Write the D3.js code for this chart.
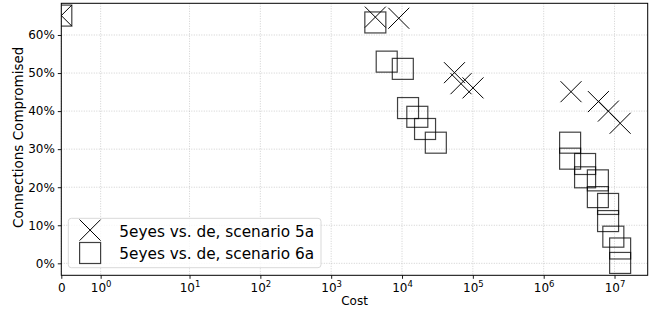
<!DOCTYPE html>
<meta charset="utf-8">
<style>
	body { margin: 0; background: #fff; }
	svg text { font-family: "DejaVu Sans", sans-serif; fill: #000; }
	.grid line { stroke: #b0b0b0; stroke-opacity: 0.6; stroke-dasharray: 1,1.5; }
</style>
<script src="https://cdn.jsdelivr.net/npm/d3@7"></script>
<body>
<div id="chart"></div>
<script>
	// cost / share of connections compromised
	let cost5a = [0, 4200, 9000, 55000, 68000, 100500, 2.43e6, 5.92e6, 8.19e6, 1.2e7];
	let comp5a = [0.651, 0.647, 0.644, 0.501, 0.472, 0.461, 0.451, 0.425, 0.400, 0.368];

	let cost6a = [0, 4200, 6080, 10260, 12160, 16440, 21140, 30000,
		2.36e6, 2.36e6, 3.84e6, 3.84e6, 5.82e6, 5.82e6, 8.11e6, 8.11e6, 9.62e6, 1.2e7, 1.2e7];
	let comp6a = [0.651, 0.633, 0.530, 0.511, 0.408, 0.385, 0.353, 0.317,
		0.317, 0.275, 0.261, 0.226, 0.218, 0.174, 0.156, 0.111, 0.070, 0.039, 0.001];

	let seriesNames = ["5eyes vs. de, scenario 5a", "5eyes vs. de, scenario 6a"];
	let xTicks = [0, 1, 10, 100, 1e3, 1e4, 1e5, 1e6, 1e7];
	let yTicks = [0, 0.1, 0.2, 0.3, 0.4, 0.5, 0.6];
	let xLim = [0, 2.94e7];
	let yLim = [-0.0315, 0.6833];

	let margin = { top: 3.3, right: 5.3, bottom: 34.7, left: 61.3 },
		width = 653 - margin.left - margin.right,
		height = 310 - margin.top - margin.bottom;

	// matplotlib style symlog, linthresh 2, linscale 1
	let linthresh = 2, linscale = 1 / (1 - 0.1);
	function symT(v) {
		let a = Math.abs(v);
		if (a <= linthresh) return v / linthresh * linscale;
		return Math.sign(v) * (linscale + Math.log10(a / linthresh));
	}

	let tx = d3.scaleLinear().domain(xLim.map(symT)).range([0, width]);
	let x = v => tx(symT(v));
	let y = d3.scaleLinear().domain(yLim).range([height, 0]);

	let svg = d3.select("#chart").append("svg")
		.attr("width", 653).attr("height", 310);

	let g = svg.append("g").attr("transform", `translate(${margin.left},${margin.top})`);

	g.append("clipPath").attr("id", "clip")
		.append("rect").attr("width", width).attr("height", height);

	// grid
	let grid = g.append("g").attr("class", "grid");
	grid.selectAll("line.gx").data(xTicks).join("line")
		.attr("class", "gx")
		.attr("x1", d => x(d)).attr("x2", d => x(d))
		.attr("y1", 0).attr("y2", height);
	grid.selectAll("line.gy").data(yTicks).join("line")
		.attr("class", "gy")
		.attr("x1", 0).attr("x2", width)
		.attr("y1", d => y(d)).attr("y2", d => y(d));

	// axes
	let xAxis = g.append("g")
		.attr("transform", `translate(0,${height})`)
		.call(d3.axisBottom(tx).tickValues(xTicks.map(symT)).tickSize(3.5).tickPadding(3).tickFormat(""));
	xAxis.select(".domain").remove();
	xAxis.selectAll(".tick line").attr("stroke", "#000").attr("stroke-width", 0.9);
	xAxis.selectAll(".tick").each(function (d, i) {
		let t = d3.select(this).append("text")
			.attr("y", 17).attr("text-anchor", "middle")
			.style("font-size", "12px");
		let v = xTicks[i];
		if (v === 0) { t.text("0"); return; }
		t.append("tspan").text("10");
		t.append("tspan").attr("dy", -5).style("font-size", "8.5px").text(Math.round(Math.log10(v)));
	});

	let yAxis = g.append("g")
		.call(d3.axisLeft(y).tickValues(yTicks).tickSize(3.5).tickPadding(3)
			.tickFormat(d => Math.round(d * 100) + "%"));
	yAxis.select(".domain").remove();
	yAxis.selectAll(".tick line").attr("stroke", "#000").attr("stroke-width", 0.9);
	yAxis.selectAll(".tick text").style("font-size", "12px").attr("fill", "#000");

	svg.append("text")
		.attr("x", margin.left + width / 2).attr("y", 305)
		.attr("text-anchor", "middle").style("font-size", "12px")
		.text("Cost");

	svg.append("text")
		.attr("transform", `translate(23,${margin.top + height / 2 - 2}) rotate(-90)`)
		.attr("text-anchor", "middle").style("font-size", "13.5px")
		.text("Connections Compromised");

	// markers
	let ms = 21;
	let plot = g.append("g").attr("clip-path", "url(#clip)");

	function drawX(sel, cx, cy) {
		let h = ms / 2;
		sel.append("path")
			.attr("d", `M${cx - h},${cy - h}L${cx + h},${cy + h}M${cx - h},${cy + h}L${cx + h},${cy - h}`)
			.attr("fill", "none").attr("stroke", "#000").attr("stroke-width", 1);
	}
	function drawSq(sel, cx, cy) {
		sel.append("rect")
			.attr("x", cx - ms / 2).attr("y", cy - ms / 2)
			.attr("width", ms).attr("height", ms)
			.attr("fill", "none").attr("stroke", "#000")
			.attr("stroke-opacity", 0.75).attr("stroke-width", 1.2);
	}

	cost5a.forEach((c, i) => drawX(plot, x(c), y(comp5a[i])));
	cost6a.forEach((c, i) => drawSq(plot, x(c), y(comp6a[i])));

	// spines
	g.append("rect").attr("width", width).attr("height", height)
		.attr("fill", "none").attr("stroke", "#000").attr("stroke-width", 1);

	// legend
	let lg = g.append("g").attr("transform", `translate(${68.3 - margin.left},${218.3 - margin.top})`);
	lg.append("rect").attr("width", 252.7).attr("height", 49.4)
		.attr("rx", 3).attr("fill", "#fff").attr("fill-opacity", 0.8)
		.attr("stroke", "#d9d9d9");
	drawX(lg, 21.8, 11.8);
	drawSq(lg, 21.8, 34.7);
	lg.selectAll("text.lab").data(seriesNames).join("text")
		.attr("class", "lab")
		.attr("x", 51).attr("y", (d, i) => 18.6 + i * 22)
		.style("font-size", "15.3px")
		.text(d => d);
</script>
</body>
